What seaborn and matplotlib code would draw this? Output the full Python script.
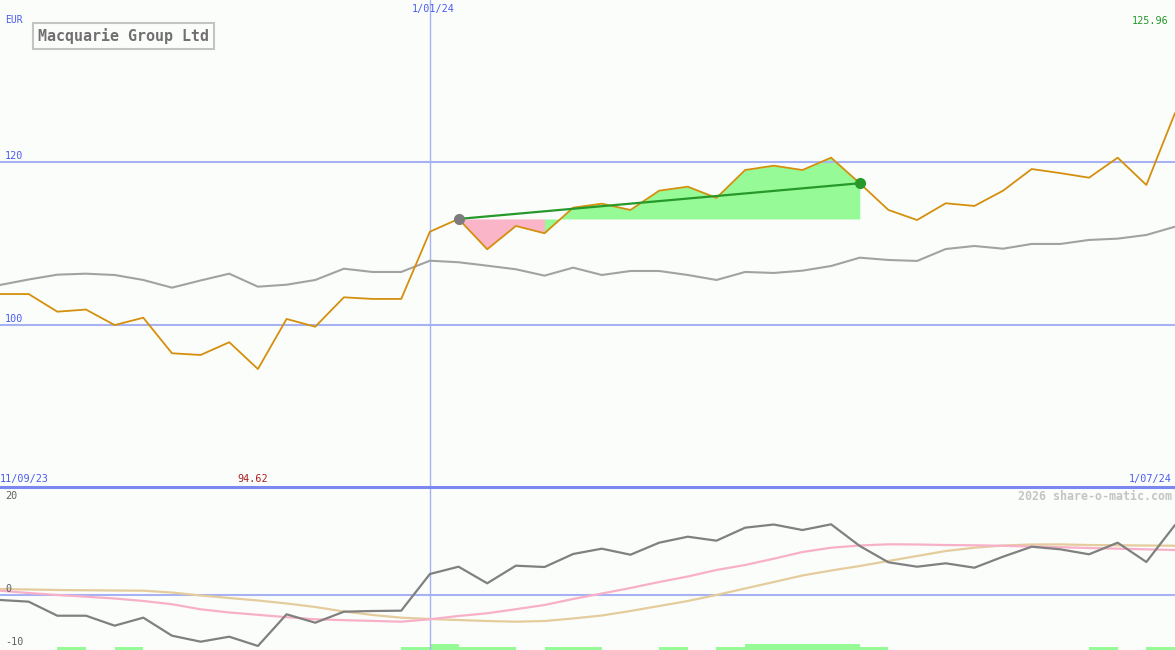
import matplotlib
matplotlib.use("Agg")
import matplotlib.pyplot as plt
from matplotlib.lines import Line2D
import numpy as np
import pandas as pd
import seaborn as sns

# === DONNEES (une valeur par semaine) ===
price = [103.8, 103.8, 101.64, 101.9, 100.0, 100.9, 96.55, 96.34, 97.9, 94.62,
         100.75, 99.8, 103.4, 103.2, 103.2, 111.43, 112.99, 109.28, 112.13, 111.24,
         114.37, 114.86, 114.09, 116.45, 116.94, 115.56, 118.98, 119.51, 118.98, 120.49,
         117.36, 114.09, 112.86, 114.91, 114.58, 116.45, 119.1, 118.6, 118.04, 120.49,
         117.15, 125.96]
index_rel = [104.91, 105.58, 106.17, 106.29, 106.13, 105.52, 104.58, 105.46, 106.29, 104.70,
             104.94, 105.52, 106.90, 106.50, 106.50, 107.88, 107.69, 107.27, 106.83, 106.05,
             107.03, 106.13, 106.62, 106.62, 106.13, 105.52, 106.50, 106.38, 106.66, 107.23,
             108.25, 107.97, 107.85, 109.31, 109.68, 109.35, 109.93, 109.93, 110.42, 110.58,
             111.03, 112.04]
momentum = [-0.94, -1.26, -3.91, -3.91, -5.79, -4.28, -7.68, -8.81, -7.87, -9.62,
            -3.64, -5.23, -3.15, -3.02, -2.96, 3.96, 5.34, 2.21, 5.53, 5.28,
            7.74, 8.74, 7.60, 9.87, 11.0, 10.25, 12.7, 13.3, 12.26, 13.34,
            9.25, 6.17, 5.34, 5.98, 5.15, 7.23, 9.11, 8.62, 7.68, 9.87,
            6.23, 13.21]
ma_short = [0.81, 0.38, 0.0, -0.32, -0.66, -1.13, -1.74, -2.70, -3.30, -3.74,
            -4.19, -4.58, -4.75, -4.89, -5.04, -4.58, -3.96, -3.45, -2.68, -1.89,
            -0.75, 0.28, 1.32, 2.45, 3.49, 4.72, 5.66, 6.85, 8.11, 8.92,
            9.34, 9.57, 9.53, 9.43, 9.38, 9.28, 9.15, 9.02, 8.87, 8.74,
            8.62, 8.49]
ma_long = [1.13, 1.04, 0.94, 0.89, 0.85, 0.81, 0.47, -0.09, -0.57, -1.04,
           -1.60, -2.26, -3.11, -3.77, -4.28, -4.53, -4.72, -4.91, -5.04, -4.91,
           -4.43, -3.87, -3.02, -2.08, -1.13, 0.0, 1.23, 2.45, 3.68, 4.62,
           5.47, 6.42, 7.36, 8.30, 8.92, 9.34, 9.53, 9.55, 9.43, 9.38,
           9.34, 9.30]
# signal par intervalle hebdomadaire (0 = rien, 1 = faible, 2 = fort)
signal = [0, 0, 1, 0, 1, 0, 0, 0, 0, 0,
          0, 0, 0, 0, 1, 2, 1, 1, 0, 1,
          1, 0, 0, 1, 0, 1, 2, 2, 2, 2,
          1, 0, 0, 0, 0, 0, 0, 0, 1, 0,
          1]
price_ticks = [100, 120]
trend_start, trend_end = 16, 30
jan_week = 15

weeks = np.arange(len(price))
df = pd.DataFrame({"semaine": weeks, "cours": price, "indice": index_rel,
                   "momentum": momentum, "mm_courte": ma_short, "mm_longue": ma_long})

# === COULEURS ===
BG = "#fbfdfb"
BLUE_LINE = "#a6b2f2"
BLUE_TXT = "#4a5cf0"
ORANGE = "#d4900c"
GREY = "#a2a2a2"
GREEN = "#26992a"
LIGHT_GREEN = "#96fa96"
PINK = "#fab6c8"

sns.set_theme(style="white")
plt.rcParams["font.family"] = ["DejaVu Sans Mono", "DejaVu Sans"]

W, H = 1175, 650
fig = plt.figure(figsize=(W / 100, H / 100), dpi=100, facecolor=BG)
split = 163 / H
ax = fig.add_axes([0, split, 1, 1 - split], facecolor=BG)
axb = fig.add_axes([0, 0, 1, split], facecolor=BG)
for a in (ax, axb):
    a.set_xlim(0, len(price) - 1)
    for s in a.spines.values():
        s.set_visible(False)
    a.set_xticks([])
    a.set_yticks([])

ax.set_ylim(80.18, 139.79)
axb.set_ylim(-10.38, 20.38)

# === PANNEAU PRINCIPAL ===
base = price[trend_start]
ax.fill_between(weeks[trend_start:20], np.array(price)[trend_start:20], base,
                color=PINK, lw=0, zorder=1)
ax.fill_between(weeks[19:trend_end + 1], np.array(price)[19:trend_end + 1], base,
                color=LIGHT_GREEN, lw=0, zorder=1)

for t in price_ticks:
    ax.axhline(t, color=BLUE_LINE, lw=1.5, zorder=2)
ax.axvline(jan_week, color=BLUE_LINE, lw=1, zorder=2)

sns.lineplot(data=df, x="semaine", y="indice", ax=ax, color=GREY, lw=1.5, zorder=3)
sns.lineplot(data=df, x="semaine", y="cours", ax=ax, color=ORANGE, lw=1.3, zorder=4)
ax.plot([trend_start, trend_end], [price[trend_start], price[trend_end]],
        color=GREEN, lw=1.6, zorder=5)
ax.plot(trend_start, price[trend_start], "o", color="#7c7c7c", ms=7, zorder=6)
ax.plot(trend_end, price[trend_end], "o", color=GREEN, ms=7, zorder=6)
ax.set_xlabel("")
ax.set_ylabel("")

# === PANNEAU INFERIEUR ===
axb.axhline(0, color=BLUE_LINE, lw=1.5, zorder=2)
axb.axvline(jan_week, color=BLUE_LINE, lw=1, zorder=2)
axb.bar(np.arange(len(signal)), np.array(signal) * 0.57, width=1, align="edge",
        bottom=-10.38, color=LIGHT_GREEN, lw=0, zorder=1)
sns.lineplot(data=df, x="semaine", y="mm_longue", ax=axb, color="#e4cc9c", lw=1.6, zorder=3)
sns.lineplot(data=df, x="semaine", y="mm_courte", ax=axb, color="#f8b0c8", lw=1.6, zorder=3)
sns.lineplot(data=df, x="semaine", y="momentum", ax=axb, color="#808080", lw=1.6, zorder=4)
axb.set_xlabel("")
axb.set_ylabel("")

fig.add_artist(Line2D([0, 1], [split, split], transform=fig.transFigure,
                      color="#7a88f0", lw=2.2))


# === TEXTES ===
def txt(x, y, s, **kw):
    fig.text(x / W, 1 - y / H, s, va="center", **kw)


txt(5, 20, "EUR", color=BLUE_TXT, fontsize=7)
txt(38, 36, "Macquarie Group Ltd", color="#707070", fontsize=10.8, fontweight="bold",
    bbox=dict(boxstyle="square,pad=0.32", fc=BG, ec="#c4c4c4", lw=1.5))
txt(433, 9, "1/01/24", color=BLUE_TXT, fontsize=7.3, ha="center")
txt(1169, 21, "125.96", color=GREEN, fontsize=7.3, ha="right")
txt(5, 156, "120", color=BLUE_TXT, fontsize=7.3)
txt(5, 319, "100", color=BLUE_TXT, fontsize=7.3)
txt(0, 479, "11/09/23", color=BLUE_TXT, fontsize=7.3)
txt(237, 479, "94.62", color="#a82020", fontsize=7.3)
txt(1172, 479, "1/07/24", color=BLUE_TXT, fontsize=7.3, ha="right")
txt(1172, 496, "2026 share-o-matic.com", color="#c4c4c4", fontsize=8.4, fontweight="bold", ha="right")
txt(5, 496, "20", color="#606060", fontsize=7.3)
txt(5, 589, "0", color="#606060", fontsize=7.3)
txt(5, 642, "-10", color="#606060", fontsize=7.3)

fig.savefig("out.png", dpi=100, facecolor=BG)
